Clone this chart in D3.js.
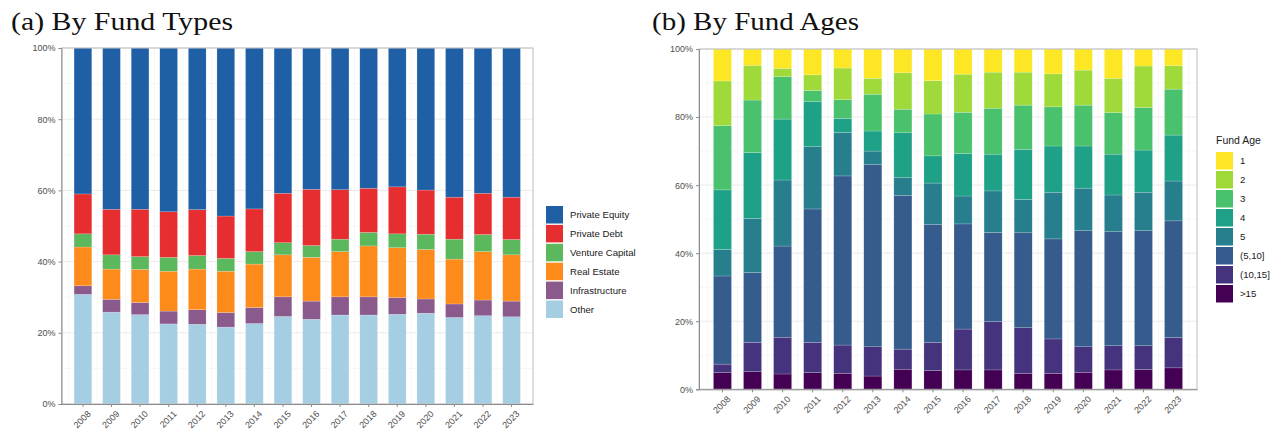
<!DOCTYPE html>
<html>
<head>
<meta charset="utf-8">
<script src="https://cdn.jsdelivr.net/npm/d3@7/dist/d3.min.js"></script>
<style>
  html, body { margin: 0; padding: 0; background: #ffffff; }
  svg { display: block; }
  .tick-label { font-family: "Liberation Sans", Arial, sans-serif; font-size: 9px; fill: #4d4d4d; }
  .legend-label { font-family: "Liberation Sans", Arial, sans-serif; font-size: 9.6px; fill: #1a1a1a; }
  .panel-title { font-family: "Liberation Serif", "Times New Roman", serif; font-size: 26px; fill: #111; }
</style>
</head>
<body>
<svg id="chart" width="1280" height="432"></svg>
<script>
// ---- data ----
const years = ["2008","2009","2010","2011","2012","2013","2014","2015",
               "2016","2017","2018","2019","2020","2021","2022","2023"];

// (a) shares by fund type, % of total (stacked bottom to top: Other ... Private Equity)
const typeNames = ["Other","Infrastructure","Real Estate","Venture Capital","Private Debt","Private Equity"];
const otherShare          = [30.8,25.8,25.1,22.5,22.4,21.6,22.6,24.6,23.8,25.0,25.0,25.2,25.5,24.3,24.8,24.5];
const infrastructureShare = [ 2.4, 3.6, 3.4, 3.6, 4.1, 4.1, 4.5, 5.5, 5.1, 5.1, 5.1, 4.7, 4.0, 3.8, 4.4, 4.4];
const realEstateShare     = [10.9, 8.5, 9.3,11.2,11.4,11.6,12.2,11.8,12.3,12.7,14.3,14.0,13.9,12.6,13.6,13.0];
const ventureShare        = [ 3.7, 4.0, 3.6, 3.9, 3.8, 3.6, 3.5, 3.4, 3.3, 3.5, 3.8, 3.9, 4.3, 5.6, 4.8, 4.3];
const privateDebtShare    = [11.2,12.8,13.3,12.8,12.9,11.9,12.0,13.9,15.8,13.9,12.4,13.2,12.4,11.8,11.6,11.9];
const privateEquityShare  = [41.0,45.3,45.3,46.0,45.4,47.2,45.2,40.8,39.7,39.8,39.4,39.0,39.9,41.9,40.8,41.9];
const typeColors = ["#a6cee3","#8a5a8c","#fd8b1c","#5cb85c","#e62e31","#1f5fa6"];
const typeLegendOrder = ["Private Equity","Private Debt","Venture Capital","Real Estate","Infrastructure","Other"];

// (b) shares by fund age, % of total (stacked bottom to top: >15 ... 1)
const ageNames = [">15","(10,15]","(5,10]","5","4","3","2","1"];
const ageOver15  = [4.9,5.2,4.5,4.9,4.7,3.9,5.9,5.5,5.7,5.7,4.7,4.7,5.0,5.7,5.8,6.3];
const age10to15  = [2.5,8.6,10.8,8.9,8.3,8.6,5.9,8.3,12.0,14.2,13.4,10.1,7.5,7.1,7.0,8.9];
const age5to10   = [25.9,20.5,26.8,39.2,49.7,53.5,45.2,34.7,30.9,26.2,27.9,29.4,34.1,33.5,33.8,34.3];
const age5       = [7.8,15.9,19.4,18.3,12.8,4.0,5.2,12.1,8.2,12.2,9.8,13.7,12.5,10.8,11.3,11.7];
const age4       = [17.5,19.4,17.9,13.2,4.1,5.9,13.2,8.0,12.5,10.8,14.7,13.6,12.4,12.0,12.4,13.5];
const age3       = [18.9,15.4,12.5,3.3,5.5,10.8,6.9,12.3,12.1,13.5,13.0,11.5,12.0,12.2,12.5,13.5];
const age2       = [13.1,10.2,2.4,4.6,9.3,4.7,10.7,9.8,11.2,10.6,9.7,9.7,10.3,10.1,12.2,6.9];
const age1       = [9.4,4.8,5.7,7.6,5.6,8.6,7.0,9.3,7.4,6.8,6.8,7.3,6.2,8.6,5.0,4.9];
const ageColors = ["#440154","#46337e","#365c8d","#277f8e","#1fa187","#4ac16d","#9fda3a","#fde725"];
const ageLegendOrder = ["1","2","3","4","5","(5,10]","(10,15]",">15"];
const ageLegendTitle = "Fund Age";

const yTicks = [0, 20, 40, 60, 80, 100];
const yMinor = [10, 30, 50, 70, 90];

// ---- build tables ----
function buildRows(names, arrays) {
  return years.map((y, i) => {
    const row = { year: y };
    names.forEach((n, k) => row[n] = arrays[k][i]);
    return row;
  });
}
const typeRows = buildRows(typeNames,
  [otherShare, infrastructureShare, realEstateShare, ventureShare, privateDebtShare, privateEquityShare]);
const ageRows = buildRows(ageNames,
  [ageOver15, age10to15, age5to10, age5, age4, age3, age2, age1]);

const svg = d3.select("#chart");

function drawPanel(cfg) {
  const { left, right, top, bottom, rows, names, colors, paddingInner, paddingOuter } = cfg;
  const g = svg.append("g");

  const x = d3.scaleBand().domain(years).range([left, right])
    .paddingInner(paddingInner).paddingOuter(paddingOuter);
  const y = d3.scaleLinear().domain([0, 100]).range([bottom, top]);

  // minor gridlines
  g.append("g").selectAll("line").data(yMinor).join("line")
    .attr("x1", left).attr("x2", right)
    .attr("y1", d => y(d)).attr("y2", d => y(d))
    .attr("stroke", "#f2f2f2").attr("stroke-width", 0.6);
  const step = x.step();
  const mids = years.map(d => x(d) + x.bandwidth() / 2 - step / 2)
    .concat([x(years[years.length - 1]) + x.bandwidth() / 2 + step / 2]);
  g.append("g").selectAll("line").data(mids).join("line")
    .attr("x1", d => d).attr("x2", d => d)
    .attr("y1", top).attr("y2", bottom)
    .attr("stroke", "#f2f2f2").attr("stroke-width", 0.6);
  // major gridlines
  g.append("g").selectAll("line").data(yTicks).join("line")
    .attr("x1", left).attr("x2", right)
    .attr("y1", d => y(d)).attr("y2", d => y(d))
    .attr("stroke", "#e6e6e6").attr("stroke-width", 0.8);
  g.append("g").selectAll("line").data(years).join("line")
    .attr("x1", d => x(d) + x.bandwidth() / 2).attr("x2", d => x(d) + x.bandwidth() / 2)
    .attr("y1", top).attr("y2", bottom)
    .attr("stroke", "#e6e6e6").attr("stroke-width", 0.8);

  // stacked bars
  const series = d3.stack().keys(names)(rows);
  const color = d3.scaleOrdinal().domain(names).range(colors);
  g.append("g").selectAll("g").data(series).join("g")
    .attr("fill", d => color(d.key))
    .selectAll("rect").data(d => d).join("rect")
    .attr("x", d => x(d.data.year))
    .attr("width", x.bandwidth())
    .attr("y", d => y(d[1]))
    .attr("height", d => y(d[0]) - y(d[1]))
    .attr("stroke", "#ffffff").attr("stroke-opacity", 0.35).attr("stroke-width", 0.5);

  // panel border
  g.append("rect").attr("x", left).attr("y", top)
    .attr("width", right - left).attr("height", bottom - top)
    .attr("fill", "none").attr("stroke", "#bdbdbd").attr("stroke-width", 1);

  // y axis
  const yAxis = d3.axisLeft(y).tickValues(yTicks).tickSize(3).tickPadding(3)
    .tickFormat(d => d + "%");
  const ya = g.append("g").attr("transform", `translate(${left},0)`).call(yAxis);
  ya.select(".domain").attr("stroke", "#8c8c8c");
  ya.selectAll(".tick line").attr("stroke", "#8c8c8c");
  ya.selectAll(".tick text").attr("class", "tick-label").attr("fill", null);

  // x axis
  const xAxis = d3.axisBottom(x).tickSize(3).tickPadding(2).tickSizeOuter(0);
  const xa = g.append("g").attr("transform", `translate(0,${bottom})`).call(xAxis);
  xa.select(".domain").attr("stroke", "#8c8c8c");
  xa.selectAll(".tick line").attr("stroke", "#8c8c8c");
  xa.selectAll(".tick text")
    .attr("class", "tick-label").attr("fill", null)
    .attr("text-anchor", "end")
    .attr("x", 0).attr("y", 0).attr("dy", "0.71em")
    .attr("transform", "translate(4,6) rotate(-45)");
  return { x, y };
}

function drawLegend(cfg) {
  const { x0, y0, spacing, labels, names, colors, title } = cfg;
  const color = d3.scaleOrdinal().domain(names).range(colors);
  const g = svg.append("g");
  if (title) {
    g.append("text").attr("x", x0).attr("y", y0 - 8)
      .attr("class", "legend-label").style("font-size", "10.5px")
      .text(title);
  }
  const item = g.selectAll("g.item").data(labels).join("g")
    .attr("class", "item")
    .attr("transform", (d, i) => `translate(${x0},${y0 + i * spacing})`);
  item.append("rect").attr("width", 17).attr("height", 17.5)
    .attr("fill", d => color(d));
  item.append("text").attr("x", 24).attr("y", 8.8).attr("dy", "0.35em")
    .attr("class", "legend-label").text(d => d);
}

// (a) By Fund Types
drawPanel({ left: 61.5, right: 533, top: 48, bottom: 404,
  rows: typeRows, names: typeNames, colors: typeColors,
  paddingInner: 0.38, paddingOuter: 0.44 });
drawLegend({ x0: 546, y0: 206, spacing: 18.9,
  labels: typeLegendOrder, names: typeNames, colors: typeColors });

// (b) By Fund Ages
drawPanel({ left: 699, right: 1197, top: 49, bottom: 389.3,
  rows: ageRows, names: ageNames, colors: ageColors,
  paddingInner: 0.4, paddingOuter: 0.48 });
drawLegend({ x0: 1216, y0: 152, spacing: 19,
  labels: ageLegendOrder, names: ageNames, colors: ageColors, title: ageLegendTitle });

// panel titles
svg.append("text").attr("class", "panel-title")
  .attr("x", 11).attr("y", 30)
  .attr("textLength", 222).attr("lengthAdjust", "spacingAndGlyphs")
  .text("(a) By Fund Types");
svg.append("text").attr("class", "panel-title")
  .attr("x", 652).attr("y", 30)
  .attr("textLength", 207).attr("lengthAdjust", "spacingAndGlyphs")
  .text("(b) By Fund Ages");
</script>
</body>
</html>
